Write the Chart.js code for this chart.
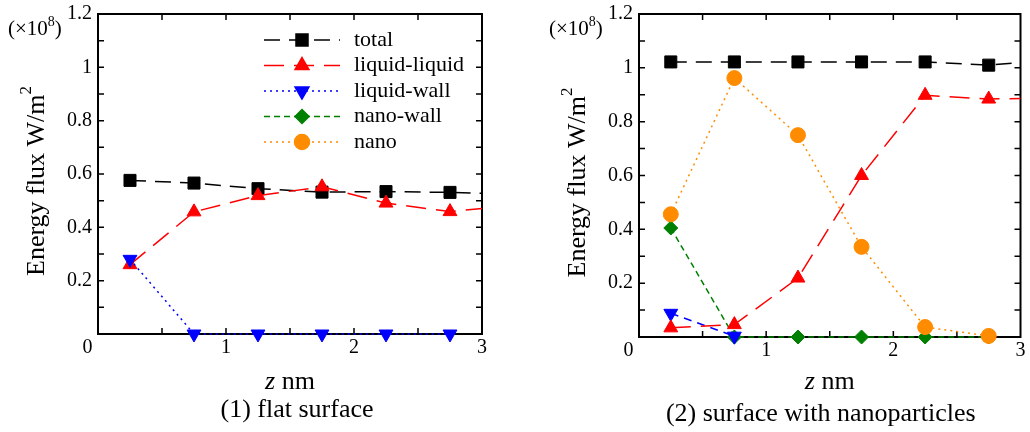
<!DOCTYPE html>
<html>
<head>
<meta charset="utf-8">
<script src="https://cdn.jsdelivr.net/npm/chart.js@4"></script>
<style>
  body { margin: 0; background: #fff; width: 1030px; height: 432px; overflow: hidden; position: relative; }
  .panel { position: absolute; top: 0; width: 515px; height: 432px; }
</style>
</head>
<body>
<div class="panel" style="left:0"><canvas id="flat" width="515" height="432"></canvas></div>
<div class="panel" style="left:515px"><canvas id="nano" width="515" height="432"></canvas></div>
<script>
// z positions of the bins (nm); the last one lies past the frame so the line runs off the edge
const zPoints = [0.25, 0.75, 1.25, 1.75, 2.25, 2.75, 3.25];
const seriesNames = ['total', 'liquid-liquid', 'liquid-wall', 'nano-wall', 'nano'];
const yTickLabels = [0.2, 0.4, 0.6, 0.8, 1, 1.2];
const xTickLabels = [1, 2, 3];

// (1) flat surface, energy flux in 1e8 W/m2
const flatTotal = [0.576, 0.566, 0.545, 0.532, 0.534, 0.531, 0.525];
const flatLiqLiq = [0.26, 0.458, 0.519, 0.552, 0.491, 0.459, 0.483];
const flatLiqWall = [0.28, 0, 0, 0, 0, 0];
const flatNanoWall = [];
const flatNano = [];

// (2) surface with nanoparticles
const nanoTotal = [1.022, 1.022, 1.022, 1.022, 1.022, 1.01, 1.03];
const nanoLiqLiq = [0.034, 0.046, 0.219, 0.6, 0.898, 0.884, 0.888];
const nanoLiqWall = [0.088, 0.003];
const nanoNanoWall = [0.405, 0, 0, 0, 0, 0];
const nanoNano = [0.456, 0.962, 0.75, 0.335, 0.037, 0.004];

const SERIF = "'Liberation Serif', 'Times New Roman', serif";

const styles = {
  'total':         { color: '#000000', dash: [16, 9], point: 'rect', radius: 8.5, rot: 0 },
  'liquid-liquid': { color: '#ff0000', dash: [20, 10], point: 'triangle', radius: 8, rot: 0 },
  'liquid-wall':   { color: '#0000ff', dash: [2, 4], point: 'triangle', radius: 8, rot: 180 },
  'nano-wall':     { color: '#008000', dash: [6, 4], point: 'rectRot', radius: 7, rot: 0 },
  'nano':          { color: '#ff8c00', dash: [2, 4], point: 'circle', radius: 7.5, rot: 0 }
};

function toPoints(vals) {
  return vals.map((v, i) => ({ x: zPoints[i], y: v }));
}

// order: lower numbers are drawn on top
function makeDataset(name, vals, order, dashOverride) {
  const s = styles[name];
  return {
    label: name,
    data: toPoints(vals),
    borderColor: s.color,
    backgroundColor: s.color,
    borderWidth: 1.5,
    borderDash: dashOverride || s.dash,
    pointStyle: s.point,
    pointRadius: s.radius,
    pointRotation: s.rot,
    pointBorderWidth: 1,
    pointBorderColor: s.color,
    pointBackgroundColor: s.color,
    tension: 0,
    order: order,
    clip: { left: 20, top: 20, right: 0, bottom: 20 }
  };
}

// frame with inward ticks, tick labels and titles
function framePlugin(cfg) {
  return {
    id: 'frame',
    beforeDatasetsDraw(chart) {
      const { ctx, chartArea: a, scales: { x, y } } = chart;
      ctx.save();
      ctx.strokeStyle = '#000';
      ctx.lineWidth = 2;
      ctx.setLineDash([]);
      ctx.strokeRect(a.left, a.top, a.right - a.left, a.bottom - a.top);
      ctx.lineWidth = 1.5;
      ctx.beginPath();
      for (let k = 1; k < 6; k++) {
        const px = x.getPixelForValue(k * 0.5);
        ctx.moveTo(px, a.bottom); ctx.lineTo(px, a.bottom - 6);
        ctx.moveTo(px, a.top); ctx.lineTo(px, a.top + 6);
      }
      for (let k = 1; k < 12; k++) {
        const py = y.getPixelForValue(k / 10);
        ctx.moveTo(a.left, py); ctx.lineTo(a.left + 6, py);
        ctx.moveTo(a.right, py); ctx.lineTo(a.right - 6, py);
      }
      ctx.stroke();
      ctx.restore();
    },
    afterDraw(chart) {
      const { ctx, chartArea: a, scales: { x, y } } = chart;
      ctx.save();
      ctx.fillStyle = '#000';
      ctx.font = '20px ' + SERIF;
      ctx.textAlign = 'right';
      ctx.textBaseline = 'middle';
      yTickLabels.forEach(v => ctx.fillText(String(v), a.left - 6, y.getPixelForValue(v)));
      ctx.textAlign = 'center';
      xTickLabels.forEach(v => ctx.fillText(String(v), x.getPixelForValue(v), a.bottom + 14));
      ctx.fillText('0', a.left - 10.5, a.bottom + 14);

      // (x10^8) multiplier
      ctx.textAlign = 'left';
      ctx.font = '21px ' + SERIF;
      let tx = a.left - 90;
      const ty = a.top + 15;
      ctx.fillText('(\u00d710', tx, ty);
      tx += ctx.measureText('(\u00d710').width;
      ctx.font = '14px ' + SERIF;
      ctx.fillText('8', tx, ty - 7);
      tx += ctx.measureText('8').width;
      ctx.font = '21px ' + SERIF;
      ctx.fillText(')', tx, ty);

      // y title, rotated
      ctx.save();
      ctx.translate(a.left - 61, (a.top + a.bottom) / 2 + 7);
      ctx.rotate(-Math.PI / 2);
      ctx.font = '26px ' + SERIF;
      const main = 'Energy flux W/m';
      const wMain = ctx.measureText(main).width;
      ctx.font = '17px ' + SERIF;
      const wSup = ctx.measureText('2').width;
      const start = -(wMain + wSup) / 2;
      ctx.font = '26px ' + SERIF;
      ctx.fillText(main, start, 0);
      ctx.font = '17px ' + SERIF;
      ctx.fillText('2', start + wMain, -10);
      ctx.restore();

      // x title: italic z + nm
      const cx = (a.left + a.right) / 2;
      ctx.font = 'italic 26px ' + SERIF;
      const wz = ctx.measureText('z').width;
      ctx.font = '26px ' + SERIF;
      const wn = ctx.measureText(' nm').width;
      const sx = cx - (wz + wn) / 2;
      ctx.font = 'italic 26px ' + SERIF;
      ctx.fillText('z', sx, cfg.xTitleY);
      ctx.font = '26px ' + SERIF;
      ctx.fillText(' nm', sx + wz, cfg.xTitleY);

      ctx.textAlign = 'center';
      ctx.fillText(cfg.subtitle, cx + cfg.subShift, cfg.subY);
      ctx.restore();
    }
  };
}

// legend drawn as line - marker - line, like the original
const legendPlugin = {
  id: 'seriesLegend',
  afterDraw(chart) {
    const ctx = chart.ctx;
    ctx.save();
    seriesNames.forEach((name, i) => {
      const ds = chart.data.datasets.find(d => d.label === name);
      const yy = 40 + i * 25.5;
      ctx.strokeStyle = ds.borderColor;
      ctx.lineWidth = 1.5;
      ctx.setLineDash(ds.borderDash);
      ctx.beginPath();
      ctx.moveTo(264, yy); ctx.lineTo(340, yy);
      ctx.stroke();
      ctx.setLineDash([]);
      ctx.fillStyle = ds.backgroundColor;
      Chart.helpers.drawPoint(ctx, {
        pointStyle: ds.pointStyle, radius: ds.pointRadius, rotation: ds.pointRotation, borderWidth: 1
      }, 302, yy);
      ctx.fillStyle = '#000';
      ctx.font = '22px ' + SERIF;
      ctx.textAlign = 'left';
      ctx.textBaseline = 'middle';
      ctx.fillText(name, 354, yy);
    });
    ctx.restore();
  }
};

function buildChart(id, datasets, layout, cfg, extraPlugins) {
  return new Chart(document.getElementById(id), {
    type: 'line',
    data: { datasets: datasets },
    options: {
      responsive: false,
      animation: false,
      devicePixelRatio: 1,
      layout: { padding: { left: 0, top: layout.top, right: layout.right, bottom: 0 } },
      plugins: { legend: { display: false }, tooltip: { enabled: false } },
      scales: {
        x: {
          type: 'linear', min: 0, max: 3,
          grid: { display: false }, border: { display: false },
          ticks: { display: false },
          afterFit(s) { s.height = layout.xHeight; }
        },
        y: {
          type: 'linear', min: 0, max: 1.2,
          grid: { display: false }, border: { display: false },
          ticks: { display: false },
          afterFit(s) { s.width = layout.yWidth; }
        }
      }
    },
    plugins: [framePlugin(cfg)].concat(extraPlugins)
  });
}

buildChart('flat', [
  makeDataset('total', flatTotal, 4),
  makeDataset('liquid-liquid', flatLiqLiq, 1),
  makeDataset('liquid-wall', flatLiqWall, 0),
  makeDataset('nano-wall', flatNanoWall, 3),
  makeDataset('nano', flatNano, 2)
], { top: 14, right: 33, xHeight: 98, yWidth: 98 },
   { subtitle: '(1) flat surface', subY: 410, subShift: 7, xTitleY: 382 }, [legendPlugin]);

buildChart('nano', [
  makeDataset('total', nanoTotal, 4),
  makeDataset('liquid-liquid', nanoLiqLiq, 1),
  makeDataset('liquid-wall', nanoLiqWall, 2, [8, 6]),
  makeDataset('nano-wall', nanoNanoWall, 3),
  makeDataset('nano', nanoNano, 0)
], { top: 14, right: 7, xHeight: 95, yWidth: 124 },
   { subtitle: '(2) surface with nanoparticles', subY: 414, subShift: -9, xTitleY: 382 }, []);
</script>
</body>
</html>
